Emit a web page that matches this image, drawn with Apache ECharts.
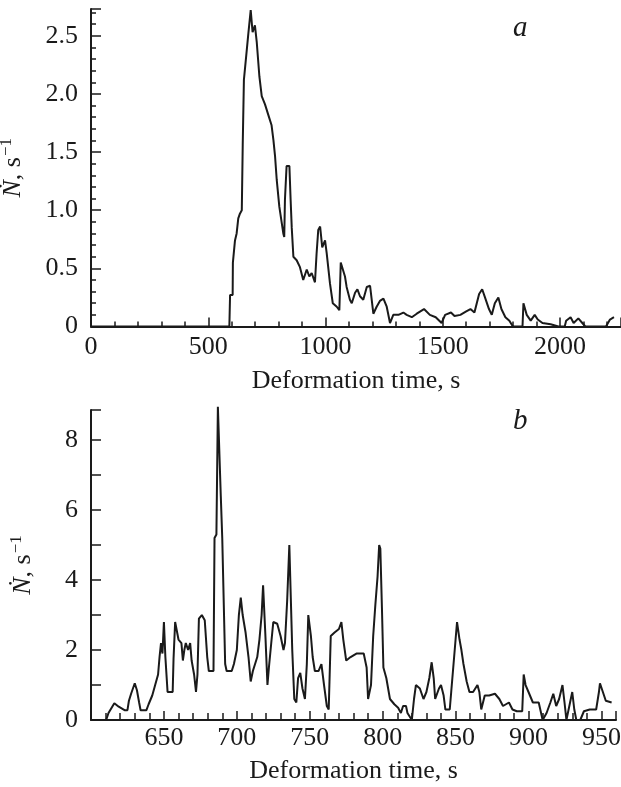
<!DOCTYPE html>
<html lang="en">
<head>
  <meta charset="UTF-8">
  <title>Deformation time</title>
  <script src="https://cdn.jsdelivr.net/npm/echarts@6/dist/echarts.min.js"></script>
  <style>
    body {
      margin: 0;
      background: #fff;
    }

    .box {
      width: 621px;
      height: 787px;
    }
  </style>
</head>
<body>

<div class="box"></div>

<script>
  // panel a: whole test
  var aTime = [0, 590, 593, 604, 605, 614, 621, 628, 635, 643,
    647, 652, 661, 671, 681, 689, 699, 707, 718, 728,
    742, 756, 770, 778, 785, 792, 803, 810, 820, 824,
    827, 834, 846, 851, 856, 863, 877, 891, 905, 920,
    931, 941, 955, 962, 969, 977, 986, 998, 1005, 1019,
    1031, 1048, 1059, 1065, 1073, 1083, 1090, 1104, 1112, 1126,
    1136, 1147, 1161, 1176, 1190, 1197, 1204, 1218, 1232, 1247,
    1261, 1275, 1289, 1311, 1332, 1346, 1368, 1389, 1420, 1445,
    1470, 1495, 1510, 1535, 1550, 1575, 1600, 1618, 1635, 1655,
    1668, 1680, 1697, 1709, 1722, 1737, 1750, 1767, 1784, 1799,
    1840, 1844, 1858, 1875, 1892, 1905, 1925, 1960, 1993, 2020,
    2026, 2045, 2058, 2078, 2095, 2108, 2196, 2213, 2230];
  var aRate = [0, 0, 0.27, 0.27, 0.55, 0.74, 0.80, 0.93, 0.97, 1.0,
    1.56, 2.12, 2.31, 2.52, 2.72, 2.53, 2.59, 2.44, 2.15, 1.98,
    1.91, 1.82, 1.73, 1.60, 1.46, 1.26, 1.03, 1.03, 0.80, 0.77,
    1.09, 1.38, 1.38, 1.10, 0.85, 0.60, 0.57, 0.51, 0.40, 0.49,
    0.43, 0.46, 0.38, 0.63, 0.83, 0.86, 0.68, 0.74, 0.63, 0.37,
    0.20, 0.17, 0.14, 0.55, 0.55, 0.43, 0.34, 0.23, 0.20, 0.29,
    0.32, 0.26, 0.23, 0.34, 0.35, 0.34, 0.11, 0.17, 0.22, 0.24,
    0.17, 0.03, 0.10, 0.10, 0.12, 0.10, 0.08, 0.11, 0.15, 0.10,
    0.08, 0.03, 0.10, 0.12, 0.09, 0.10, 0.13, 0.15, 0.12, 0.28,
    0.32, 0.25, 0.15, 0.10, 0.20, 0.25, 0.15, 0.08, 0.05, 0,
    0, 0.20, 0.10, 0.05, 0.10, 0.06, 0.03, 0.02, 0, 0,
    0.05, 0.08, 0.03, 0.07, 0.03, 0, 0, 0.06, 0.08];

  // panel b: zoom on 600-960 s
  var bTime = [610.4, 612, 616, 619, 623, 625, 626, 627.5, 630, 631.5,
    633, 634, 638, 639.5, 642, 644, 646, 647, 648, 649,
    650, 651, 652, 652.5, 656, 656.6, 657.7, 659, 660, 662,
    663, 664, 665, 666.6, 668, 669, 670.7, 672, 673, 674,
    676, 678, 679.7, 680.8, 684, 684.7, 686, 687, 688, 689,
    690, 692, 693, 696.5, 698, 700, 701.4, 702.7, 704, 706,
    708, 709.5, 711, 714, 715.5, 717, 718, 719.6, 721, 722,
    723.6, 725, 727.7, 730, 732, 733, 734.5, 736, 737, 738,
    739.4, 740.8, 742, 743.5, 745, 746.7, 748, 749, 750.8, 752,
    753.5, 756, 758, 759.8, 761.7, 763, 764.4, 767, 770, 771.7,
    773, 775, 778, 782, 787, 789, 790, 792, 793.5, 795,
    796.5, 797.6, 798.4, 799.5, 800.5, 802.5, 805, 808, 810.6, 812.5,
    814, 816, 817, 818.5, 820, 821.5, 822.8, 825.5, 828, 830,
    832, 833.6, 835, 836, 838.6, 840, 841.8, 843, 846, 847,
    848.6, 850, 851, 852.7, 854, 855.4, 857.6, 859.5, 862, 865,
    866.3, 867.6, 870, 873, 877, 880, 882.5, 886.6, 889, 892,
    895.7, 896.7, 898, 900, 903, 907, 909.7, 912.4, 915, 917,
    919, 921, 923.3, 924.7, 926, 928, 930, 931.4, 932.8, 935.5,
    938, 942, 946.4, 948.3, 949, 951, 953, 957];
  var bRate = [0, 0.2, 0.48, 0.38, 0.28, 0.28, 0.55, 0.75, 1.05, 0.85,
    0.5, 0.28, 0.28, 0.45, 0.7, 1.0, 1.3, 1.8, 2.2, 1.9,
    2.8, 1.8, 1.8, 0.8, 0.8, 1.75, 2.8, 2.75, 2.3, 2.2,
    1.7, 2.0, 2.2, 2.0, 2.2, 1.7, 1.3, 0.8, 1.3, 2.9,
    3.0, 2.85, 1.8, 1.4, 1.4, 5.2, 5.3, 8.95, 8.95, 6.4,
    5.2, 1.6, 1.4, 1.4, 1.6, 2.0, 3.0, 3.5, 3.0, 2.5,
    1.8, 1.1, 1.4, 1.8, 2.3, 3.0, 3.85, 2.4, 1.0, 1.5,
    2.2, 2.8, 2.75, 2.4, 2.0, 2.2, 3.4, 5.0, 3.5, 2.0,
    0.6, 0.5, 1.2, 1.35, 0.9, 0.6, 1.6, 3.0, 2.4, 1.8,
    1.4, 1.4, 1.6, 1.0, 0.4, 0.3, 2.4, 2.5, 2.6, 2.8,
    2.3, 1.7, 1.8, 1.9, 1.9, 1.5, 0.6, 1.0, 2.4, 3.3,
    4.1, 5.0, 4.9, 3.2, 1.5, 1.2, 0.6, 0.45, 0.35, 0.2,
    0.4, 0.4, 0.2, 0.1, 0, 0.6, 1.0, 0.9, 0.6, 0.8,
    1.2, 1.65, 1.2, 0.6, 0.9, 1.0, 0.7, 0.3, 0.3, 0.8,
    1.6, 2.3, 2.8, 2.3, 2.0, 1.6, 1.1, 0.8, 0.8, 1.0,
    0.8, 0.3, 0.7, 0.7, 0.75, 0.6, 0.4, 0.5, 0.3, 0.25,
    0.25, 1.3, 1.0, 0.8, 0.5, 0.5, 0, 0.2, 0.5, 0.75,
    0.4, 0.6, 1.0, 0.5, 0, 0.4, 0.8, 0.3, 0, 0,
    0.25, 0.3, 0.3, 0.8, 1.05, 0.8, 0.55, 0.5];

  var xName = 'Deformation time, s';
  var yName = '{i|Ṅ}{t|, s}{sup|−1}';

  var font = 'Liberation Serif, DejaVu Serif, Times New Roman, serif';
  var ink = '#1a1a1a';

  function pairs(xs, ys) {
    var out = [];
    for (var i = 0; i < xs.length; i++) {
      out.push([xs[i], ys[i]]);
    }
    return out;
  }

  function yNameStyle() {
    return {
      color: ink,
      fontFamily: font,
      fontSize: 26,
      rich: {
        i: {fontFamily: font, fontSize: 26, fontStyle: 'italic', color: ink},
        t: {fontFamily: font, fontSize: 26, color: ink},
        sup: {fontFamily: font, fontSize: 17, color: ink, padding: [0, 0, 14, 1]}
      }
    };
  }

  function axisBase(minorLen, majorLen) {
    return {
      axisLine: {onZero: false, lineStyle: {color: ink, width: 2}},
      axisTick: {inside: true, length: majorLen, lineStyle: {color: ink, width: 1.5}},
      minorTick: {show: true, length: minorLen, lineStyle: {color: ink, width: 1.5}},
      splitLine: {show: false},
      minorSplitLine: {show: false}
    };
  }

  var box = document.getElementsByClassName('box')[0];
  var chart = echarts.init(box);

  var labelFont = {color: ink, fontFamily: font, fontSize: 26};

  var option = {
    animation: false,
    title: [
      {text: 'a', left: 508, top: 9, textStyle: {fontFamily: font, fontStyle: 'italic', fontWeight: 'normal', fontSize: 29, color: ink}},
      {text: 'b', left: 508, top: 402, textStyle: {fontFamily: font, fontStyle: 'italic', fontWeight: 'normal', fontSize: 29, color: ink}}
    ],
    grid: [
      {left: 91, top: 9, width: 530, height: 317.5, outerBoundsMode: 'none', containLabel: false},
      {left: 91, top: 410, width: 525, height: 310, outerBoundsMode: 'none', containLabel: false}
    ],
    xAxis: [
      Object.assign(axisBase(5, 9), {
        type: 'value', gridIndex: 0, min: 0, max: 2260, interval: 500,
        minorTick: {show: true, splitNumber: 5, length: 5, lineStyle: {color: ink, width: 1.5}},
        axisLabel: Object.assign({margin: 8, formatter: function (v) {
          return v % 500 === 0 ? String(v) : '';
        }}, labelFont),
        name: xName, nameLocation: 'middle', nameGap: 42,
        nameTextStyle: labelFont
      }),
      Object.assign(axisBase(7, 9), {
        type: 'value', gridIndex: 1, min: 600, max: 960, interval: 50,
        minorTick: {show: true, splitNumber: 5, length: 7, lineStyle: {color: ink, width: 1.5}},
        axisLabel: Object.assign({margin: 5, formatter: function (v) {
          return (v % 50 === 0 && v > 600) ? String(v) : '';
        }}, labelFont),
        name: xName, nameLocation: 'middle', nameGap: 38,
        nameTextStyle: labelFont
      })
    ],
    yAxis: [
      Object.assign(axisBase(5, 10), {
        type: 'value', gridIndex: 0, min: 0, max: 2.73, interval: 0.5,
        minorTick: {show: true, splitNumber: 5, length: 5, lineStyle: {color: ink, width: 1.5}},
        axisLabel: Object.assign({margin: 13, formatter: function (v) {
          if (Math.abs(v / 0.5 - Math.round(v / 0.5)) > 1e-6) return '';
          return v === 0 ? '0' : v.toFixed(1);
        }}, labelFont),
        name: yName, nameLocation: 'middle', nameRotate: 90, nameGap: 62,
        nameTextStyle: yNameStyle()
      }),
      Object.assign(axisBase(10, 10), {
        type: 'value', gridIndex: 1, min: 0, max: 8.86, interval: 2,
        minorTick: {show: true, splitNumber: 2, length: 10, lineStyle: {color: ink, width: 1.5}},
        axisLabel: Object.assign({margin: 13, formatter: function (v) {
          return v % 2 === 0 ? String(v) : '';
        }}, labelFont),
        name: yName, nameLocation: 'middle', nameRotate: 90, nameGap: 52,
        nameTextStyle: yNameStyle()
      })
    ],
    series: [
      {
        type: 'line', xAxisIndex: 0, yAxisIndex: 0,
        data: pairs(aTime, aRate),
        showSymbol: false, clip: false,
        lineStyle: {color: ink, width: 2}
      },
      {
        type: 'line', xAxisIndex: 1, yAxisIndex: 1,
        data: pairs(bTime, bRate),
        showSymbol: false, clip: false,
        lineStyle: {color: ink, width: 2}
      }
    ]
  };

  chart.setOption(option);
</script>
</body>
</html>
